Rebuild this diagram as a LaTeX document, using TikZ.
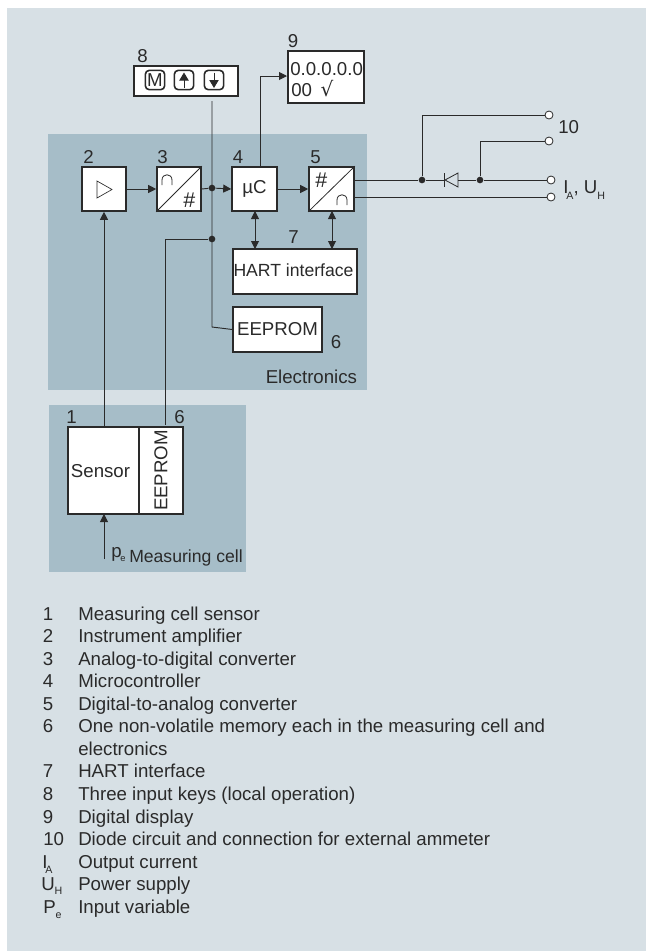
\documentclass[tikz,border=0pt]{standalone}
\usepackage{fontspec}
\setmainfont{Liberation Sans}
\usetikzlibrary{arrows.meta}
\definecolor{bgc}{HTML}{D7E0E5}
\definecolor{panelc}{HTML}{A6BDC8}
\definecolor{inkc}{HTML}{2A2A2A}
\newcommand{\mainsz}{\fontsize{14pt}{16pt}\selectfont}
\newcommand{\subsz}{\fontsize{8pt}{9pt}\selectfont}
\tikzset{
  x=0.75pt,y=-0.75pt,
  txt/.style={font=\mainsz,text=inkc,inner sep=0pt,anchor=base west},
  blockbox/.style={draw=inkc,line width=1.2pt,fill=white,inner sep=0pt,text=inkc,font=\mainsz},
  wire/.style={draw=inkc,line width=0.7pt},
  arr/.style={wire,-{Triangle[length=6pt,width=6pt]}},
  biarr/.style={wire,{Triangle[length=6pt,width=6pt]}-{Triangle[length=6pt,width=6pt]}},
  dotj/.style={circle,fill=inkc,inner sep=0pt,minimum size=5pt},
  term/.style={circle,draw=inkc,fill=white,line width=0.6pt,inner sep=0pt,minimum size=6pt},
  sym/.style={font=\fontsize{16pt}{18pt}\selectfont\itshape,text=inkc,inner sep=0pt},
  capsym/.style={draw=inkc,line width=0.6pt},
  keycap/.style={draw=inkc,line width=1.2pt,rounded corners=3pt,minimum size=14.5pt,inner sep=0pt},
}
\newcommand{\boxat}[6]{\node[blockbox,minimum width=#4*0.75pt,minimum height=#5*0.75pt] (#1) at (#2,#3) {#6};}
\begin{document}
\begin{tikzpicture}
\useasboundingbox (0,0) rectangle (646,951);
\fill[white] (0,0) rectangle (646,951);
\fill[bgc] (7,8) rectangle (646,951);
\fill[panelc] (48,134) rectangle (367,390);
\fill[panelc] (49,405) rectangle (246,572);
% blocks
\boxat{b8}{186}{81}{104}{30}{}
\boxat{b9}{326}{77}{76}{52}{}
\boxat{b2}{104}{189}{44}{44}{}
\boxat{b3}{179}{189}{44}{44}{}
\boxat{b4}{254.5}{189}{45}{44}{µC}
\boxat{b5}{331.5}{189}{45}{44}{}
\boxat{b7}{295}{271.5}{124}{45}{}
\boxat{b6}{277.5}{329.5}{89}{45}{EEPROM}
\boxat{s1}{103.5}{470.5}{71}{87}{}
\boxat{s6}{161}{470.5}{44}{87}{\rotatebox{90}{EEPROM}}
\node[inner sep=0pt,font=\fontsize{13.2pt}{15pt}\selectfont,text=inkc] (hart) at (293.5,270.5) {HART interface};
\node[inner sep=0pt,font=\mainsz,text=inkc] (sens) at (100.5,471) {Sensor};
% inside of 2
\draw[inkc,line width=0.5pt] (97,181) -- (112,189.5) -- (97,198) -- cycle;
% inside of 3 and 5
\draw[inkc,line width=0.6pt] (b3.south west) -- (b3.north east);
\draw[inkc,line width=0.6pt] (b5.south west) -- (b5.north east);
\draw[capsym] (162,185) -- (162,180) .. controls (162,173) and (172,173) .. (172,180) -- (172,185);
\draw[capsym] (337,205) -- (337,200) .. controls (337,193) and (347,193) .. (347,200) -- (347,205);
\node[sym] (n3b) at (189,200) {\#};
\node[sym] (n5a) at (321,180) {\#};
% keys
\foreach \n/\cx in {k1/155,k2/184,k3/214}{
  \node[keycap] (\n) at (\cx,80) {};
}
\node[font=\mainsz,text=inkc,inner sep=0pt] (km) at (155,80) {M};
\draw[inkc,line width=0.6pt,-{Triangle[length=6pt,width=7pt]}] (184,88) -- (184,72.5);
\draw[inkc,line width=0.6pt,-{Triangle[length=6pt,width=7pt]}] (214,72.5) -- (214,88);
% display
\node[txt] (d1) at (290,75) {0.0.0.0.0};
\node[txt] (d2) at (291,96) {00};
\node[inner sep=0pt,font=\fontsize{15pt}{16pt}\selectfont\fontspec{DejaVu Sans},text=inkc] (d3) at (327,89) {√};
% wires
\coordinate (top8) at (212,101);
\node[dotj] (j1) at (212,188) {};
\node[dotj] (j2) at (212,239) {};
\draw[wire] (top8) -- (212,327) -- (b6.west);
\draw[arr] (b2.east) -- (b3.west);
\draw[wire] (b3.east) -- (j1);
\draw[arr] (j1) -- (b4.west);
\draw[arr] (b4.east) -- (b5.west);
\draw[arr] (260.5,167) -- (260.5,76) -- (287,76);
\draw[biarr] (255,211) -- (255,249);
\draw[biarr] (332,211) -- (332,249);
\draw[wire] (j2) -- (165,239) -- (165,425);
\draw[arr] (104,427) -- (b2.south);
\coordinate (pe) at (104,559);
\draw[arr] (pe) -- (104,514);
% output
\node[term] (t1) at (549,115) {};
\node[term] (t2) at (549,141) {};
\node[term] (t3) at (551,180) {};
\node[term] (t4) at (551,197) {};
\node[dotj] (j3) at (422,180) {};
\node[dotj] (j4) at (480,180) {};
\draw[wire] (354,180) -- (j3) -- (444,180);
\draw[wire] (458,180) -- (j4) -- (t3);
\draw[wire] (354,197) -- (t4);
\draw[wire] (j3) -- (422,115) -- (t1);
\draw[wire] (j4) -- (480,141) -- (t2);
\draw[inkc,line width=0.6pt,fill=none] (458,173) -- (445,180) -- (458,187) -- cycle;
\draw[inkc,line width=0.6pt] (444,173) -- (444,187);
% labels
\node[txt] (l8) at (137,62) {8};
\node[txt] (l9) at (287.5,47) {9};
\node[txt] (l2) at (83,163) {2};
\node[txt] (l3) at (157,163) {3};
\node[txt] (l4) at (232.5,163) {4};
\node[txt] (l5) at (310,163) {5};
\node[txt] (l7) at (288,243) {7};
\node[txt] (l6) at (330.5,348) {6};
\node[txt] (lE) at (265.5,383) {Electronics};
\node[txt] (l1) at (66,423) {1};
\node[txt] (l62) at (174,423) {6};
\node[txt] (l10) at (558,133) {10};
\node[txt] (lia) at (563,193) {I\hspace{-1.5pt}\raisebox{-4.5pt}{\subsz A}, U\raisebox{-4.5pt}{\subsz H}};
\node[txt] (lpe) at (111,557) {p\hspace{-1pt}\raisebox{-3pt}{\fontsize{7pt}{8pt}\selectfont e}};
\node[inner sep=0pt,anchor=base west,font=\fontsize{13.2pt}{15pt}\selectfont,text=inkc] (lmc) at (129,562) {Measuring cell};
% legend
\foreach \nm/\yy/\kk/\vv in {a/620/1/Measuring cell sensor,
  b/642.6/2/Instrument amplifier,
  c/665.1/3/Analog-to-digital converter,
  d/687.7/4/Microcontroller,
  e/710.2/5/Digital-to-analog converter,
  f/732.8/6/One non-volatile memory each in the measuring cell and,
  g/777.9/7/HART interface,
  h/800.4/8/Three input keys (local operation),
  i/823/9/Digital display}{
  \node[txt] (key\nm) at (42.5,\yy) {\kk};
  \node[txt] (val\nm) at (78,\yy) {\vv};
}
\node[txt] (valf2) at (78,755.3) {electronics};
\node[txt] (keyj) at (43,845.5) {10};
\node[txt] (valj) at (78,845.5) {Diode circuit and connection for external ammeter};
\node[txt] (keyk) at (42,868) {I\hspace{-1.5pt}\raisebox{-3.75pt}{\subsz A}};
\node[txt] (valk) at (78,868) {Output current};
\node[txt] (keyl) at (41,890.6) {U\raisebox{-3pt}{\subsz H}};
\node[txt] (vall) at (78,890.6) {Power supply};
\node[txt] (keym) at (43,913.2) {P\raisebox{-3.75pt}{\subsz e}};
\node[txt] (valm) at (78,913.2) {Input variable};
\end{tikzpicture}
\end{document}
